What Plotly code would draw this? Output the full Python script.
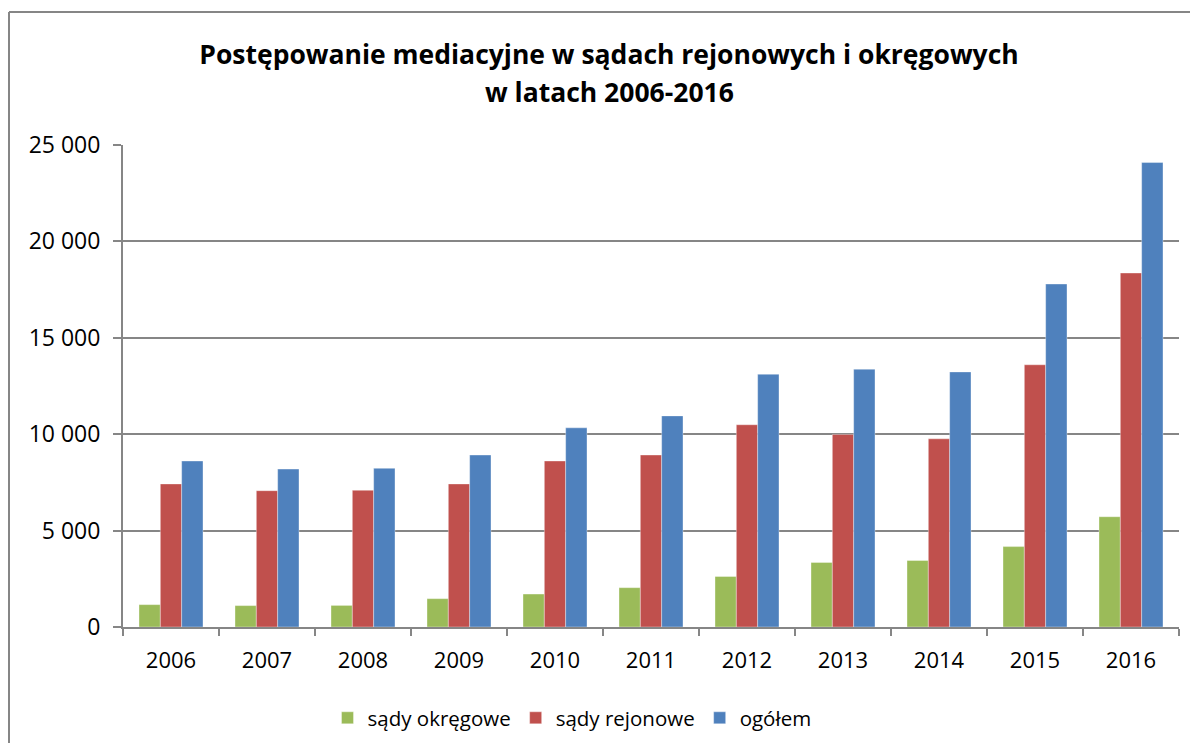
import plotly.graph_objects as go

years = ["2006", "2007", "2008", "2009", "2010", "2011", "2012", "2013", "2014", "2015", "2016"]
sady_okregowe = [1160, 1110, 1120, 1470, 1710, 2040, 2620, 3350, 3450, 4170, 5720]
sady_rejonowe = [7420, 7070, 7090, 7420, 8610, 8920, 10490, 9990, 9760, 13600, 18360]
ogolem = [8610, 8190, 8230, 8920, 10330, 10950, 13110, 13370, 13230, 17790, 24090]

series_names = ["sądy okręgowe", "sądy rejonowe", "ogółem"]
colors = ["#9BBB59", "#C0504D", "#4F81BD"]
tick_vals = [0, 5000, 10000, 15000, 20000, 25000]
tick_text = ["0", "5 000", "10 000", "15 000", "20 000", "25 000"]
title_lines = ["Postępowanie mediacyjne w sądach rejonowych i okręgowych", "w latach 2006-2016"]

FONT = "Open Sans"

fig = go.Figure()
for name, vals, col in zip(series_names, [sady_okregowe, sady_rejonowe, ogolem], colors):
    fig.add_trace(go.Bar(
        x=years, y=vals, name=name,
        marker=dict(color=col, line=dict(color="rgba(255,255,255,0.6)", width=0.6)),
    ))

# The page body adds an 8px margin on every side; keep the figure inside the window
OFF = 8
W, H = 1198 - 2 * OFF, 751 - 2 * OFF
L, T = 123 - OFF, 145 - OFF
R = (OFF + W) - 1179
B = (OFF + H) - 627
pw, ph = W - L - R, H - T - B

def cx(px):  # screen x -> container fraction
    return (px - OFF) / W

def cy(py):  # screen y -> container fraction
    return 1 - (py - OFF) / H

def px_x(px):  # screen x -> paper fraction
    return (px - OFF - L) / pw

def px_y(py):  # screen y -> paper fraction
    return 1 - (py - OFF - T) / ph

border = dict(color="#868686", width=2)

fig.update_layout(
    width=W, height=H,
    margin=dict(l=L, r=R, t=T, b=B),
    paper_bgcolor="white", plot_bgcolor="white",
    barmode="group", bargap=1.5 / 4.5, bargroupgap=0,
    font=dict(family=FONT, size=22, color="black"),
    title=dict(
        text="<b>" + title_lines[0] + "</b>",
        x=cx(609), xanchor="center", xref="container",
        y=cy(55), yanchor="middle", yref="container",
        font=dict(family=FONT, size=26.5, color="black"),
    ),
    annotations=[dict(
        text="<b>" + title_lines[1] + "</b>",
        x=px_x(609), xanchor="center", xref="paper",
        y=px_y(92), yanchor="middle", yref="paper",
        showarrow=False, font=dict(family=FONT, size=26.5, color="black"),
    )],
    showlegend=True,
    legend=dict(
        orientation="h", x=cx(572), xanchor="center", xref="container",
        y=cy(718), yanchor="middle", yref="container",
        font=dict(family=FONT, size=20.5, color="black"),
        itemwidth=30, traceorder="normal", tracegroupgap=0,
    ),
    xaxis=dict(
        showline=True, linecolor="#868686", linewidth=2,
        ticks="outside", tickson="boundaries", ticklen=7, tickwidth=2, tickcolor="#868686",
        showgrid=False, tickfont=dict(family=FONT, size=22), ticklabelstandoff=13,
    ),
    yaxis=dict(
        range=[0, 25000], tickvals=tick_vals, ticktext=tick_text,
        showline=True, linecolor="#868686", linewidth=2,
        ticks="outside", ticklen=8, tickwidth=2, tickcolor="#868686",
        showgrid=True, gridcolor="#868686", gridwidth=2,
        zeroline=False, tickfont=dict(family=FONT, size=23), ticklabelstandoff=8,
    ),
    shapes=[
        dict(type="line", xref="paper", yref="paper",
             x0=px_x(OFF + 1), x1=px_x(OFF + 1), y0=px_y(12), y1=px_y(751 + 20),
             line=border, layer="below"),
        dict(type="line", xref="paper", yref="paper",
             x0=px_x(OFF + 1), x1=px_x(1198 + 20), y0=px_y(12), y1=px_y(12),
             line=border, layer="below"),
    ],
)

fig.write_html("out.html")
